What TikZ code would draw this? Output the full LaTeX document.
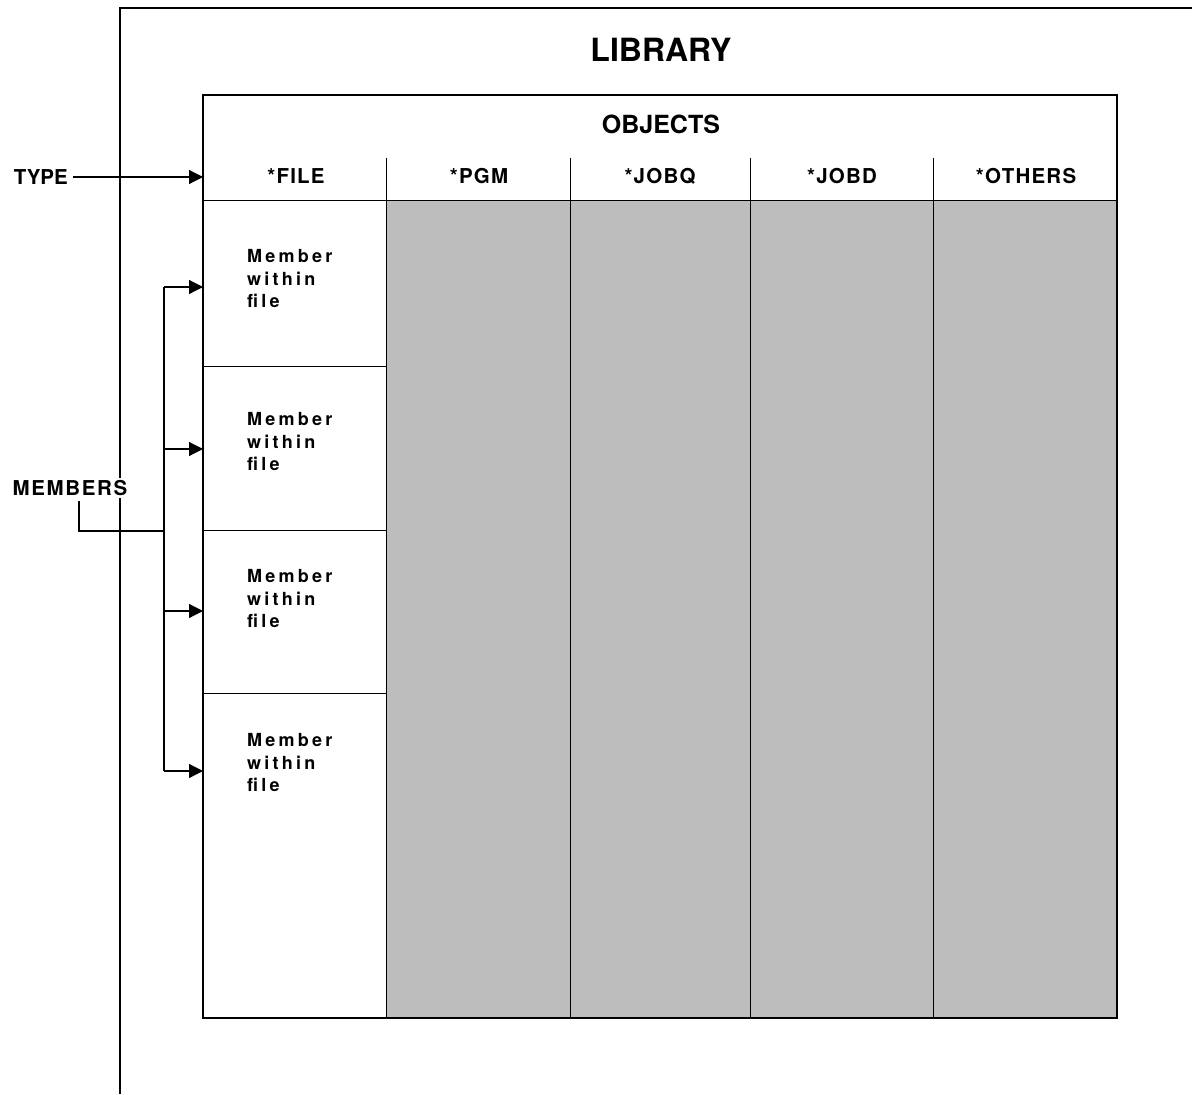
\documentclass[tikz,border=0pt]{standalone}
\usepackage{fontspec}
\setmainfont{TeX Gyre Heros}
\newfontfamily\memfont[LetterSpace=18]{TeX Gyre Heros}
\newfontfamily\hdrfont[LetterSpace=6]{TeX Gyre Heros}
\newfontfamily\sidefont[LetterSpace=8]{TeX Gyre Heros}
\usetikzlibrary{arrows.meta}
\definecolor{objgray}{gray}{0.74}
\tikzset{
  libtitle/.style={font=\bfseries\fontsize{32}{38}\selectfont, inner sep=0pt},
  objtitle/.style={font=\bfseries\fontsize{25}{30}\selectfont, inner sep=0pt},
  hdr/.style={font=\hdrfont\bfseries\fontsize{20.5}{24}\selectfont, inner sep=0pt},
  side/.style={font=\bfseries\fontsize{20.5}{24}\selectfont, inner sep=0pt},
  memtxt/.style={font=\memfont\bfseries\fontsize{18}{22.5}\selectfont, align=left, anchor=west, inner sep=0pt},
  thinrule/.style={line width=0.9pt},
  frame/.style={line width=2pt},
  libline/.style={line width=1.7pt},
  arr/.style={line width=1.2pt, -{Triangle[length=14pt,width=14pt]}},
  conn/.style={line width=1.2pt},
}
\begin{document}
\begin{tikzpicture}[x=1pt,y=-1pt]
\useasboundingbox (0,0) rectangle (1192,1095);
% library outline (open)
\draw[libline] (120,1094) -- (120,8) -- (1192,8);
\node[libtitle] (lib) at (661,50) {LIBRARY};
% shaded object area
\fill[objgray] (386,200) rectangle (1117,1018);
% column dividers
\foreach \x in {386,570,750,933} \draw[thinrule] (\x,158) -- (\x,1018);
\draw[thinrule] (203,200) -- (1117,200);
\foreach \y in {366,530,693} \draw[thinrule] (203,\y) -- (386,\y);
% objects box
\draw[frame] (203,95) rectangle (1117,1018);
\node[objtitle] (obj) at (661,124) {OBJECTS};
\node[hdr] (hfile) at (296,176) {*FILE};
\node[hdr] (hpgm) at (479,176) {*PGM};
\node[hdr] (hjobq) at (660,176) {*JOBQ};
\node[hdr] (hjobd) at (842,176) {*JOBD};
\node[hdr] (hoth) at (1026,176) {*OTHERS};
% members text
\node[memtxt] (m1) at (247,279) {Member\\within\\file};
\node[memtxt] (m2) at (247,442) {Member\\within\\file};
\node[memtxt] (m3) at (247,599) {Member\\within\\file};
\node[memtxt] (m4) at (247,763) {Member\\within\\file};
% arrow targets on the frame
\coordinate (tt) at (203,177);
\coordinate (t1) at (203,287);
\coordinate (t2) at (203,449);
\coordinate (t3) at (203,611);
\coordinate (t4) at (203,771);
\coordinate (b1) at (164,287);
\coordinate (b2) at (164,449);
\coordinate (b3) at (164,611);
\coordinate (b4) at (164,771);
\coordinate (bj) at (164,531);
% TYPE
\node[side, anchor=east] (type) at (68,177) {TYPE};
\draw[arr] (type.east) ++(5,0) -- (tt);
% MEMBERS
\node[side, font=\sidefont\bfseries\fontsize{20.5}{24}\selectfont, fill=white, inner sep=2pt] (mem) at (70,488) {MEMBERS};
\coordinate (mk) at (79,531);
\draw[conn] (mem.south -| mk) ++(0,3) -- (mk) -- (bj);
\draw[conn] (b1) -- (b4);
\draw[arr] (b1) -- (t1);
\draw[arr] (b2) -- (t2);
\draw[arr] (b3) -- (t3);
\draw[arr] (b4) -- (t4);
\end{tikzpicture}
\end{document}
